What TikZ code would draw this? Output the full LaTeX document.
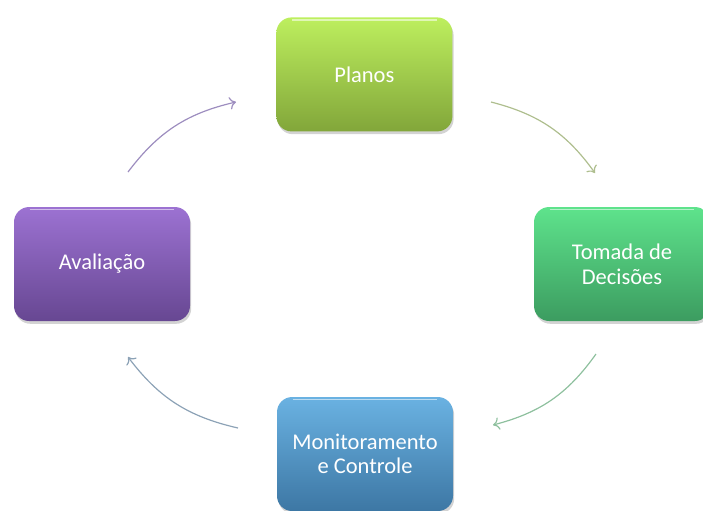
\documentclass[tikz,border=0pt]{standalone}
\usepackage{fontspec}
\setmainfont{Carlito}
\usetikzlibrary{shadows}
\usetikzlibrary{positioning}
\usetikzlibrary{arrows.meta}
\usetikzlibrary{calc}

\definecolor{planTop}{HTML}{BDEF5E}
\definecolor{planBot}{HTML}{82A63A}
\definecolor{decTop}{HTML}{5EE38C}
\definecolor{decBot}{HTML}{3C9C60}
\definecolor{monTop}{HTML}{6AB2E2}
\definecolor{monBot}{HTML}{3D77A4}
\definecolor{avaTop}{HTML}{9C72D2}
\definecolor{avaBot}{HTML}{674792}
\definecolor{planArr}{HTML}{AEBE8E}
\definecolor{decArr}{HTML}{8EC09E}
\definecolor{monArr}{HTML}{8CA2B6}
\definecolor{avaArr}{HTML}{9D8DBF}

\tikzset{
  etapa/.style={rounded corners=0.38cm, minimum width=4.4cm, minimum height=2.85cm,
    align=center, text=white, font=\fontsize{16}{17.5}\selectfont,
    drop shadow={shadow xshift=0.03cm, shadow yshift=-0.07cm, opacity=0.35}},
  ciclo/.style={line width=0.85pt, -{To[length=4.5pt, width=9pt]}, bend left=20}
}

\begin{document}
\begin{tikzpicture}

	\useasboundingbox (0,0) rectangle (17.575,-12.75);

	\foreach \name/\x/\y/\top/\bot/\txt in {plan/9.11/-1.86/planTop/planBot/Planos,
	    dec/15.55/-6.6/decTop/decBot/{Tomada de\\Decisões},
	    mon/9.125/-11.35/monTop/monBot/{Monitoramento\\e Controle},
	    ava/2.55/-6.6/avaTop/avaBot/Avaliação} {
		\node[etapa, top color=\top, bottom color=\bot] (\name) at (\x,\y) {\txt};
		\draw[white, opacity=0.55, line width=1pt]
		    ($(\name.north west)+(0.4,-0.07)$) -- ($(\name.north east)+(-0.4,-0.07)$);
	}

	\coordinate (p1) at (12.275,-2.55);
	\coordinate (d1) at (14.875,-4.325);
	\coordinate (d2) at (14.9,-8.85);
	\coordinate (m1) at (12.325,-10.625);
	\coordinate (m2) at (5.95,-10.7);
	\coordinate (a1) at (3.2,-8.925);
	\coordinate (a2) at (3.2,-4.3);
	\coordinate (p2) at (5.9,-2.55);

	\draw[ciclo, planArr] (p1) to (d1);
	\draw[ciclo, decArr] (d2) to (m1);
	\draw[ciclo, monArr] (m2) to (a1);
	\draw[ciclo, avaArr] (a2) to (p2);

\end{tikzpicture}
\end{document}
